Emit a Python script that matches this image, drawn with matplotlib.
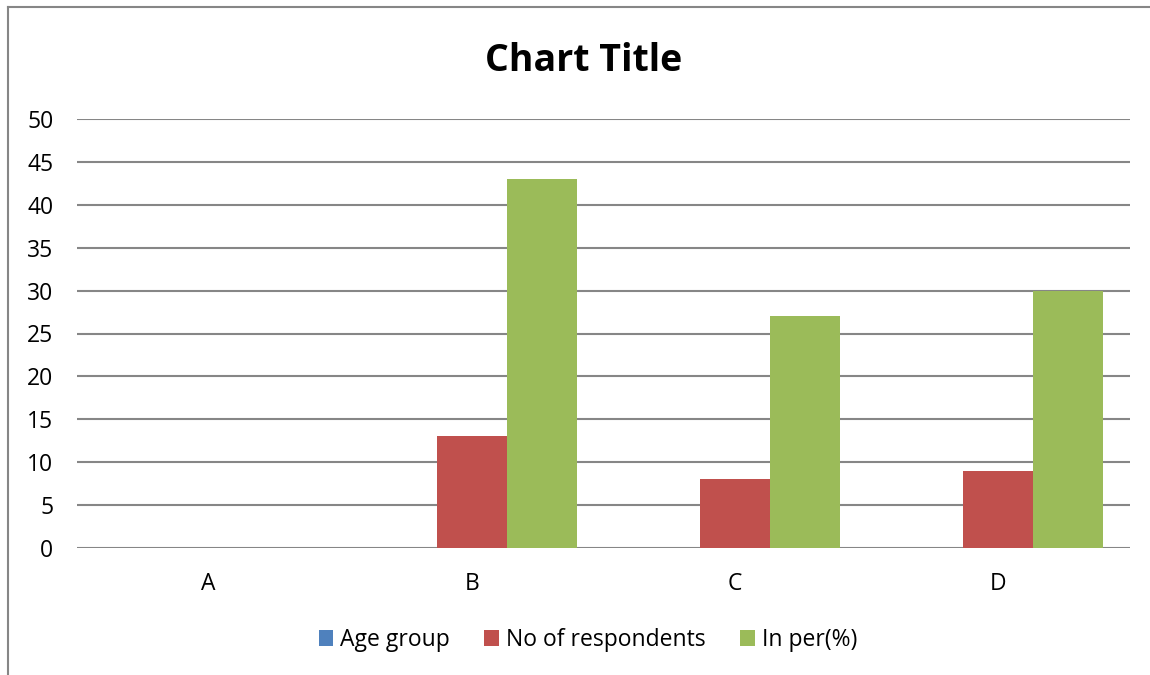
import matplotlib.pyplot as plt
import numpy as np

categories = ['A', 'B', 'C', 'D']
age_group = [0, 0, 0, 0]
respondents = [0, 13, 8, 9]
in_percent = [0, 43, 27, 30]

series = [('Age group', age_group, '#4f81bd'),
          ('No of respondents', respondents, '#c0504d'),
          ('In per(%)', in_percent, '#9bbb59')]

plt.rcParams['font.family'] = ['Open Sans', 'DejaVu Sans']

fig = plt.figure(figsize=(11.5, 6.75), dpi=100)
ax = fig.add_axes([77 / 1150, 1 - 548 / 675, (1130 - 77) / 1150, (548 - 119) / 675])

xs = np.arange(len(categories))
width = 70 / 263
for i, (name, values, color) in enumerate(series):
    ax.bar(xs + (i - 1) * width, values, width, color=color, label=name, zorder=3)

ax.set_xlim(-0.5, len(categories) - 0.5)
ax.set_ylim(0, 50)
ax.set_yticks(range(0, 51, 5))
ax.set_xticks(xs, categories)
ax.grid(axis='y', color='#868686', linewidth=1.5, zorder=0)
for side in ['top', 'right', 'left', 'bottom']:
    ax.spines[side].set_visible(False)
ax.tick_params(length=0, labelsize=16.5)
ax.tick_params(axis='y', pad=17)
ax.tick_params(axis='x', pad=17)

fig.text(584 / 1150, 1 - 61 / 675, 'Chart Title', ha='center', va='center',
         fontsize=27, fontweight='bold')

fig.legend(loc='center', bbox_to_anchor=(588 / 1150, 1 - 640 / 675), ncol=3, frameon=False,
           fontsize=16.5, handlelength=0.65, handleheight=0.65, handletextpad=0.3, columnspacing=1.5)

# partial outer border as in the reference
fig.add_artist(plt.Line2D([8 / 1150, 8 / 1150], [0, 1 - 7 / 675], color='#868686', linewidth=1.5))
fig.add_artist(plt.Line2D([8 / 1150, 1], [1 - 7 / 675, 1 - 7 / 675], color='#868686', linewidth=1.5))

fig.savefig('out.png', dpi=100)
